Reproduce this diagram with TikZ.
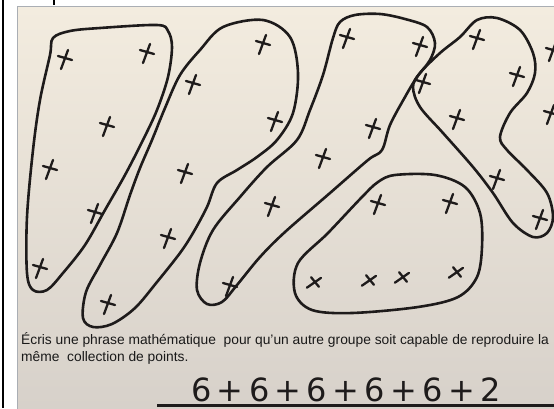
\documentclass[tikz,border=0pt]{standalone}
\usepackage{fontspec}
\setmainfont{Liberation Sans}
\newfontfamily\plume{DejaVu Sans}
\usetikzlibrary{positioning}

\definecolor{papier}{RGB}{243,236,223}
\definecolor{papierbas}{RGB}{215,209,202}
\definecolor{encre}{RGB}{30,27,27}
\definecolor{cadre}{RGB}{170,174,180}

\begin{document}
\begin{tikzpicture}[x=1pt,y=-1pt,
 trait/.style={draw=encre,line width=2.6pt,line cap=round,line join=round},
 croix/.pic={\draw[encre,line width=2.3pt,line cap=round] (-7,-2) -- (7,2);
  \draw[encre,line width=2.3pt,line cap=round] (3,-8) -- (-4,11);},
 consigne/.style={anchor=west,inner sep=0pt,text=black!90,font=\fontsize{13.8}{17}\selectfont}]
\useasboundingbox (0,0) rectangle (554,408);
\fill[white] (0,0) rectangle (554,408);
\draw[black,line width=1.4pt] (3,0) -- (3,408);
\draw[black,line width=2pt] (53.5,0) -- (53.5,5);
% la feuille
\shade[top color=papier,bottom color=papierbas] (18,7) rectangle (554,408);
\draw[cadre,line width=1.8pt] (17.5,409) -- (17.5,6.5) -- (555,6.5);
\begin{scope}
\clip (18,7) rectangle (554,408);
% les groupes
\draw[trait] plot[smooth cycle,tension=0.55] coordinates {(53,38) (70,31) (100,28) (157,25) (168,31) (172,47) (168,77) (157,110) (143,140) (125,175) (105,210) (85,245) (63,273) (47,290) (33,290) (27,273) (27,217) (33,150) (40,100) (50,55)};
\draw[trait] plot[smooth cycle,tension=0.55] coordinates {(223,27) (263,20) (290,37) (298,73) (293,113) (277,140) (257,157) (237,170) (217,183) (207,207) (193,233) (180,253) (157,282) (135,308) (112,324) (93,327) (83,318) (86,292) (100,265) (117,233) (130,195) (140,168) (152,140) (165,108) (180,75) (200,50)};
\draw[trait] plot[smooth cycle,tension=0.55] coordinates {(340,22) (355,15) (380,14) (405,19) (427,27) (435,43) (430,60) (417,77) (405,97) (390,125) (382,150) (368,160) (330,193) (285,232) (260,257) (237,285) (222,302) (207,304) (197,290) (200,263) (213,230) (240,197) (267,167) (297,140) (310,110) (323,75) (333,38)};
\draw[trait] plot[smooth cycle,tension=0.55] coordinates {(395,175) (435,175) (465,187) (480,213) (482,247) (477,277) (458,297) (418,307) (352,313) (312,310) (295,293) (298,263) (328,233) (362,197) (378,182)};
\draw[trait] plot[smooth cycle,tension=0.55] coordinates {(477,20) (497,18) (520,30) (533,53) (535,73) (527,93) (510,113) (500,137) (507,150) (527,170) (547,193) (553,217) (547,233) (533,237) (513,223) (493,193) (473,167) (443,133) (420,107) (413,87) (420,73) (440,53) (460,37)};
% les points
\foreach \p in {(65,58),(147,52),(107,125),(50,168),(95,212),(40,267),
  (193,83),(263,43),(275,120),(185,172),(168,237),(108,303),
  (347,37),(420,45),(373,127),(323,157),(272,205),(230,285),
  (378,203),(450,202),
  (477,38),(517,75),(423,82),(457,118),(497,178),(540,218),
  (553,50),(551,113)}
  \pic at \p {croix};
\foreach \p in {(315,282),(370,280),(403,277),(457,272)}
  \pic[rotate=-35,scale=0.85] at \p {croix};
% le texte
\node[consigne] (ligne1) at (21,340) {Écris une phrase mathématique\ \ pour qu'un autre groupe soit capable de reproduire la};
\node[consigne] (ligne2) at (21,358) {même\ \ collection de points.};
\node[font=\plume\fontsize{32}{32}\selectfont,text=encre,inner sep=0pt] (reponse) at (346,390) {6\,+\,6\,+\,6\,+\,6\,+\,6\,+\,2};
\draw[encre,line width=2.4pt] (157,405.5) -- (556,405.5);
\end{scope}
\end{tikzpicture}
\end{document}
